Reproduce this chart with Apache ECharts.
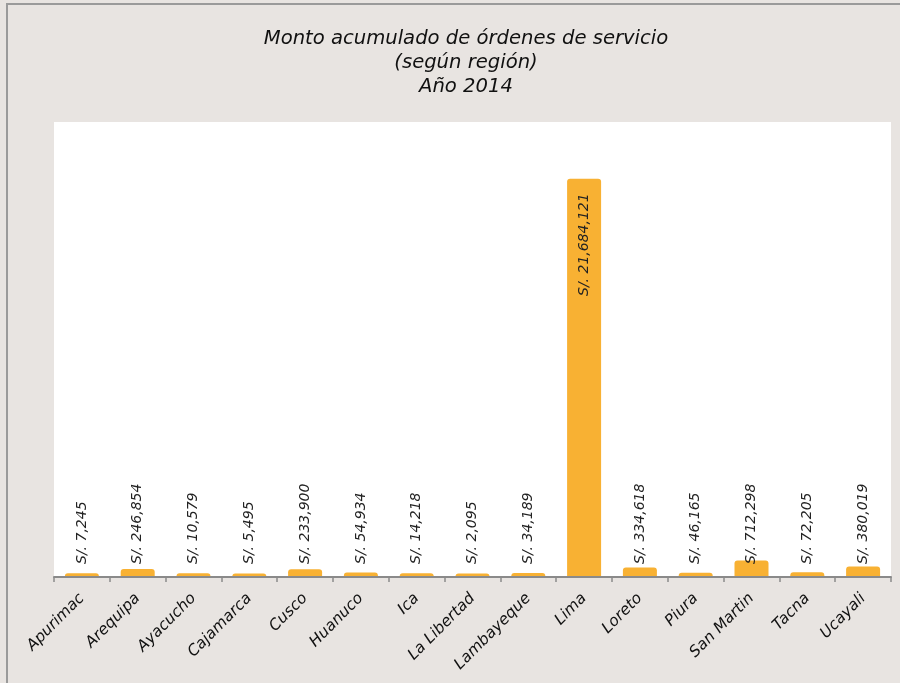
<!DOCTYPE html>
<html>
<head>
<meta charset="utf-8">
<script src="https://cdn.jsdelivr.net/npm/echarts@6/dist/echarts.min.js"></script>
<style>
  html, body { margin: 0; padding: 0; background: #fff; }
  #chart { width: 900px; height: 683px; }
</style>
</head>
<body>
<div id="chart"></div>
<script>
// regiones y montos (S/.)
const regions = ['Apurimac', 'Arequipa', 'Ayacucho', 'Cajamarca', 'Cusco', 'Huanuco', 'Ica',
  'La Libertad', 'Lambayeque', 'Lima', 'Loreto', 'Piura', 'San Martin', 'Tacna', 'Ucayali'];
const montos = [7245, 246854, 10579, 5495, 233900, 54934, 14218, 2095, 34189, 21684121,
  334618, 46165, 712298, 72205, 380019];
const titleLines = ['Monto acumulado de órdenes de servicio', '(según región)', 'Año 2014'];

const FONT = '"DejaVu Sans", sans-serif';
const BAR = '#f8b133';
const BAR_W = 34;
const OUTLINE = 3.5;   // contorno de la barra como en el original (sobresale arriba)

const chart = echarts.init(document.getElementById('chart'));

const labelData = montos.map((v, i) => {
  // Lima: etiqueta dentro de la barra, arriba
  if (regions[i] === 'Lima') {
    return {
      value: v,
      label: { position: 'insideTop', align: 'right', distance: 11 }
    };
  }
  return v;
});

function renderBar(params, api) {
  const base = api.coord([api.value(0), 0]);
  const top = api.coord([api.value(0), api.value(1)]);
  return {
    type: 'rect',
    shape: {
      x: top[0] - BAR_W / 2,
      y: top[1] - OUTLINE,
      width: BAR_W,
      height: base[1] - top[1] + OUTLINE,
      r: [3, 3, 0, 0]
    },
    style: { fill: BAR }
  };
}

chart.setOption({
  backgroundColor: '#e8e4e1',
  title: {
    text: titleLines.join('\n'),
    left: 461,
    top: 22,
    textAlign: 'center',
    textStyle: {
      fontFamily: FONT,
      fontStyle: 'italic',
      fontWeight: 'normal',
      fontSize: 19.6,
      lineHeight: 24,
      color: '#111'
    }
  },
  graphic: [
    { type: 'line', shape: { x1: 7, y1: 3, x2: 7, y2: 683 }, style: { stroke: '#9a9a9a', lineWidth: 2 } },
    { type: 'line', shape: { x1: 6, y1: 4, x2: 900, y2: 4 }, style: { stroke: '#9a9a9a', lineWidth: 2 } }
  ],
  grid: {
    left: 54,
    right: 9,
    top: 122,
    bottom: 106,
    show: true,
    backgroundColor: '#ffffff',
    borderWidth: 0
  },
  xAxis: {
    type: 'category',
    data: regions,
    axisLine: { lineStyle: { color: '#8a8a8a', width: 2 } },
    axisTick: { show: true, length: 5, lineStyle: { color: '#8a8a8a', width: 1.5 } },
    axisLabel: {
      interval: 0,
      rotate: 45,
      margin: 19,
      fontFamily: FONT,
      fontStyle: 'italic',
      fontSize: 15.5,
      color: '#111'
    },
    z: 3
  },
  yAxis: {
    type: 'value',
    show: false,
    min: 0,
    max: 25000000,
    splitLine: { show: false }
  },
  series: [
    {
      type: 'custom',
      renderItem: renderBar,
      data: montos.map((v, i) => [i, v]),
      encode: { x: 0, y: 1 },
      z: 2
    },
    {
      // barras transparentes que solo llevan las etiquetas
      type: 'bar',
      data: labelData,
      barWidth: BAR_W,
      itemStyle: { color: 'rgba(0,0,0,0)' },
      z: 4,
      label: {
        show: true,
        position: 'insideBottom',
        rotate: 90,
        align: 'left',
        verticalAlign: 'middle',
        distance: 13,
        fontFamily: FONT,
        fontStyle: 'italic',
        fontSize: 14,
        color: '#222',
        formatter: (p) => 'S/. ' + p.value.toLocaleString('en-US')
      }
    }
  ]
});
</script>
</body>
</html>
